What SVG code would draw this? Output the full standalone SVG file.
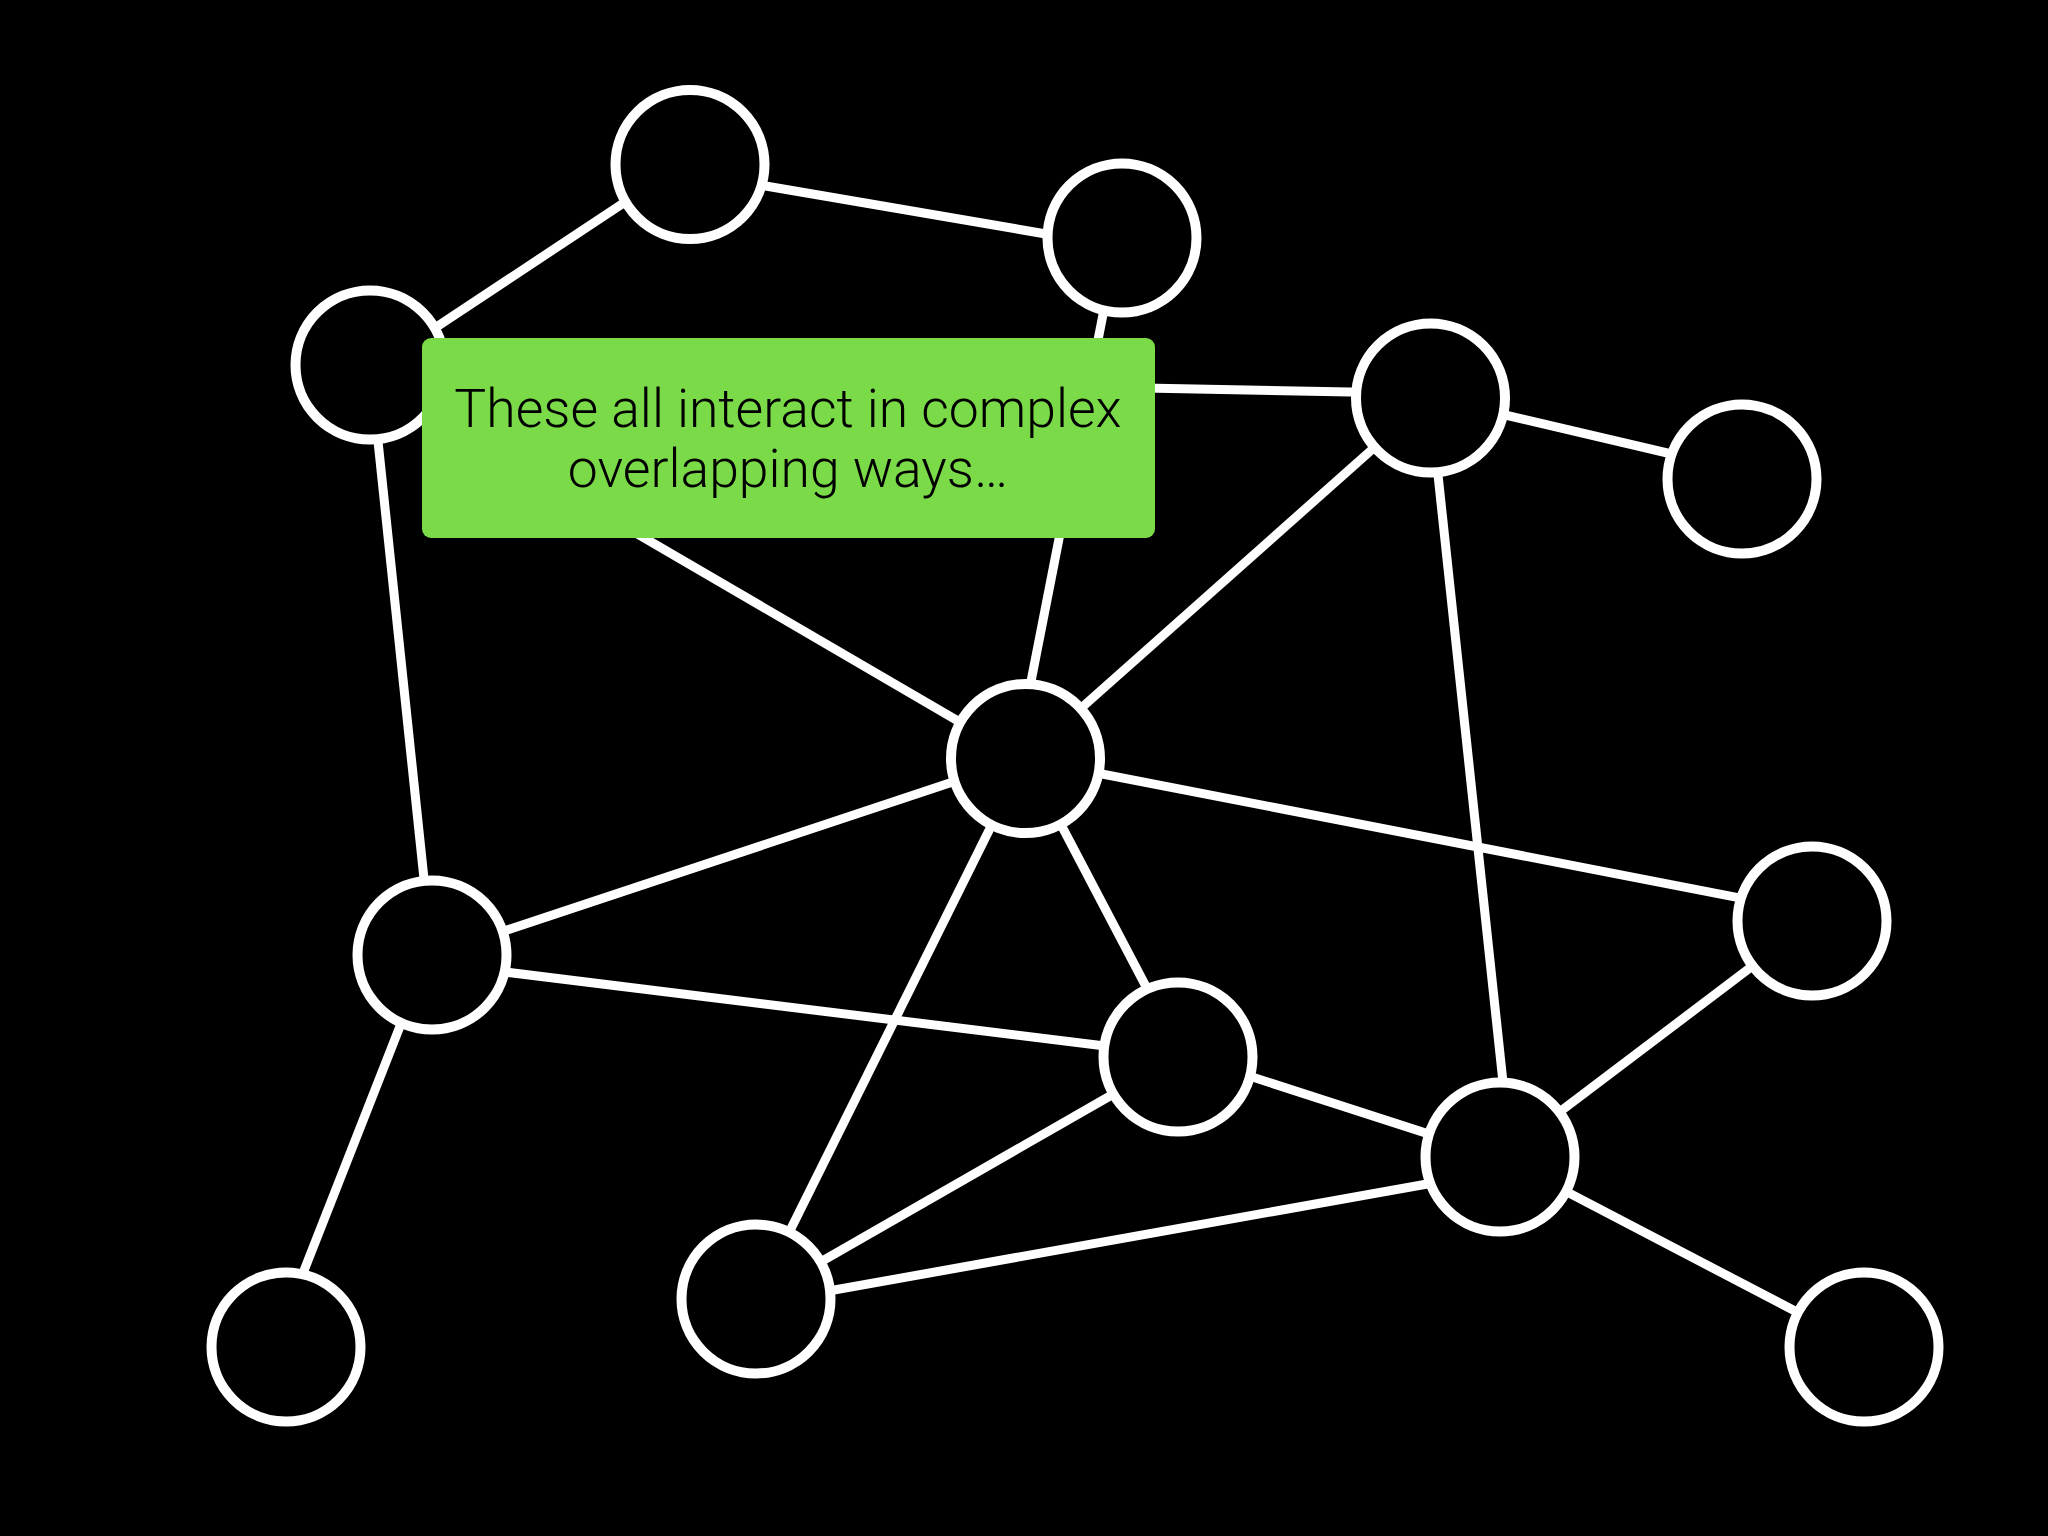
<svg xmlns="http://www.w3.org/2000/svg" width="2048" height="1536" viewBox="0 0 2048 1536">
<style>
.edge{stroke:#fff;stroke-width:9;fill:none}
.node{fill:#000;stroke:#fff;stroke-width:10}
.label{font-family:Roboto,"Liberation Sans",sans-serif;font-weight:300;font-size:53.5px;fill:#000;text-anchor:middle}
</style>
<rect width="2048" height="1536" fill="#000"/>
<g id="connectors">
<line class="edge" x1="690" y1="159" x2="370" y2="371"/>
<line class="edge" x1="690" y1="173" x2="1122" y2="247"/>
<line class="edge" x1="1118" y1="238" x2="1016" y2="758"/>
<line class="edge" x1="370" y1="365" x2="432" y2="955"/>
<line class="edge" x1="370" y1="378" x2="1025" y2="760"/>
<line class="edge" x1="370" y1="373" x2="1430" y2="393.5"/>
<line class="edge" x1="1430" y1="397.5" x2="1742" y2="470.5"/>
<line class="edge" x1="1430" y1="398" x2="1025" y2="758"/>
<line class="edge" x1="1430" y1="400" x2="1511" y2="1157"/>
<line class="edge" x1="1025" y1="758" x2="432" y2="955"/>
<line class="edge" x1="1025" y1="759" x2="1812" y2="912"/>
<line class="edge" x1="1026" y1="758" x2="1183" y2="1057"/>
<line class="edge" x1="1025" y1="758" x2="756" y2="1299"/>
<line class="edge" x1="432" y1="963" x2="1178" y2="1055"/>
<line class="edge" x1="428" y1="955" x2="274" y2="1347"/>
<line class="edge" x1="1812" y1="921" x2="1500" y2="1157"/>
<line class="edge" x1="1178" y1="1053" x2="1500" y2="1157"/>
<line class="edge" x1="1178" y1="1057" x2="756" y2="1299"/>
<line class="edge" x1="1500" y1="1171" x2="756" y2="1304"/>
<line class="edge" x1="1500" y1="1157" x2="1864" y2="1347"/>
</g>
<g id="n1"><circle class="node" cx="690" cy="164.5" r="74.5"/></g>
<g id="n2"><circle class="node" cx="1122" cy="238" r="74.5"/></g>
<g id="n3"><circle class="node" cx="370" cy="365" r="74.5"/></g>
<g id="n4"><circle class="node" cx="1430.5" cy="398" r="74.5"/></g>
<g id="n5"><circle class="node" cx="1742" cy="479" r="74.5"/></g>
<g id="n6"><circle class="node" cx="1025.5" cy="758.5" r="74.5"/></g>
<g id="n7"><circle class="node" cx="432" cy="955" r="74.5"/></g>
<g id="n8"><circle class="node" cx="1812" cy="921" r="74.5"/></g>
<g id="n9"><circle class="node" cx="1178" cy="1057" r="74.5"/></g>
<g id="n10"><circle class="node" cx="1500" cy="1157" r="74.5"/></g>
<g id="n11"><circle class="node" cx="756" cy="1299" r="74.5"/></g>
<g id="n12"><circle class="node" cx="286" cy="1347" r="74.5"/></g>
<g id="n13"><circle class="node" cx="1864" cy="1347" r="74.5"/></g>
<g id="callout">
<rect x="422" y="338" width="733" height="200" rx="9" fill="#7ada48"/>
<text class="label" x="788" y="427">These all interact in complex</text>
<text class="label" x="788" y="487">overlapping ways…</text>
</g>
</svg>
